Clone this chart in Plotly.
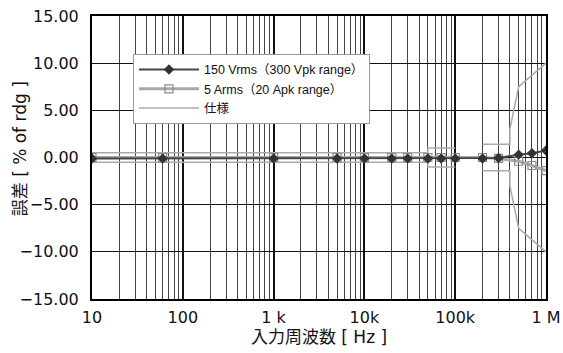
import plotly.graph_objects as go

# --- data -------------------------------------------------------------
freq = [10, 60, 1000, 5000, 10000, 20000, 30000, 50000, 70000, 100000,
        200000, 300000, 500000, 700000, 1000000]
err_150v = [-0.1, -0.1, -0.1, -0.1, -0.1, -0.1, -0.1, -0.1, -0.1, -0.1,
            -0.1, -0.05, 0.3, 0.45, 0.75]
err_5a = [0.0, 0.0, 0.0, 0.0, 0.0, 0.0, 0.0, 0.0, 0.0, 0.0,
          0.0, -0.1, -0.4, -0.85, -1.4]

spec_freq = [10, 50000, 50000, 100000, None, 200000, 400000, 400000, 500000, 1000000]
spec_upper = [0.5, 0.5, 1.0, 1.0, None, 1.4, 1.4, 3.0, 7.5, 10.0]
spec_lower = [-0.5, -0.5, -1.0, -1.0, None, -1.4, -1.4, -3.0, -7.5, -10.0]

major_ticks = [10, 100, 1000, 10000, 100000, 1000000]
major_labels = ["10", "100", "1 k", "10k", "100k", "1 M"]
minor_ticks = [k * 10 ** d for d in range(1, 6) for k in range(2, 10)]

name_v = "150 Vrms（300 Vpk range）"
name_a = "5 Arms（20 Apk range）"
name_s = "仕様"
x_title = "入力周波数 [ Hz ]"
y_title = "誤差 [ % of rdg ]"

TICKFONT = "DejaVu Sans, Noto Sans CJK JP, sans-serif"
LEGFONT = "Liberation Sans, Arial, Noto Sans CJK JP, sans-serif"

# --- figure ------------------------------------------------------------
spec_x = spec_freq + [None] + spec_freq
spec_y = spec_upper + [None] + spec_lower

fig = go.Figure()
fig.add_trace(go.Scatter(
    x=spec_x, y=spec_y, name=name_s, mode="lines",
    line=dict(color="#aaaaaa", width=1.5), connectgaps=False, legendrank=3))
fig.add_trace(go.Scatter(
    x=freq, y=err_5a, name=name_a, mode="lines+markers",
    line=dict(color="#a8a8a8", width=3),
    marker=dict(symbol="square-open", size=8, color="#8a8a8a",
                line=dict(width=1.2)), legendrank=2))
fig.add_trace(go.Scatter(
    x=freq, y=err_150v, name=name_v, mode="lines+markers",
    line=dict(color="#444444", width=2),
    marker=dict(symbol="diamond", size=8, color="#333333"), legendrank=1))

fig.update_layout(
    width=563, height=353,
    margin=dict(l=92, r=17, t=16, b=54),
    paper_bgcolor="white", plot_bgcolor="white",
    font=dict(family=TICKFONT, color="#111111"),
    legend=dict(x=0.0903, y=0.866, xanchor="left", yanchor="top",
                bgcolor="white", bordercolor="#999999", borderwidth=1,
                font=dict(size=12.5, family=LEGFONT), tracegroupgap=0,
                itemwidth=60),
    showlegend=True,
)

fig.update_xaxes(
    type="log", range=[1, 6],
    tickvals=major_ticks, ticktext=major_labels,
    showgrid=True, gridcolor="#111111", gridwidth=2,
    minor=dict(tickvals=minor_ticks, showgrid=True, gridcolor="#444444", gridwidth=1),
    showline=True, mirror=True, linecolor="black", linewidth=2,
    ticks="", ticklabelstandoff=3,
    tickfont=dict(size=16, family=TICKFONT),
    title=dict(text=x_title, font=dict(size=17, family=TICKFONT), standoff=4),
    automargin=False,
)
fig.update_yaxes(
    range=[-15, 15], dtick=5, tick0=0, tickformat=".2f",
    showgrid=True, gridcolor="#111111", gridwidth=1,
    zeroline=False,
    showline=True, mirror=True, linecolor="black", linewidth=2,
    ticks="", ticklabelstandoff=8,
    tickfont=dict(size=16, family=TICKFONT),
    automargin=False,
)

# y-axis title as a rotated annotation placed just left of the tick labels
fig.add_annotation(
    text=y_title, textangle=-90, showarrow=False,
    xref="paper", yref="paper", x=-0.158, y=0.53,
    xanchor="center", yanchor="middle",
    font=dict(size=17, family=TICKFONT, color="#111111"),
)

fig.write_html("out.html", config={"displayModeBar": False},
               post_script="document.body.style.margin='0px';")
